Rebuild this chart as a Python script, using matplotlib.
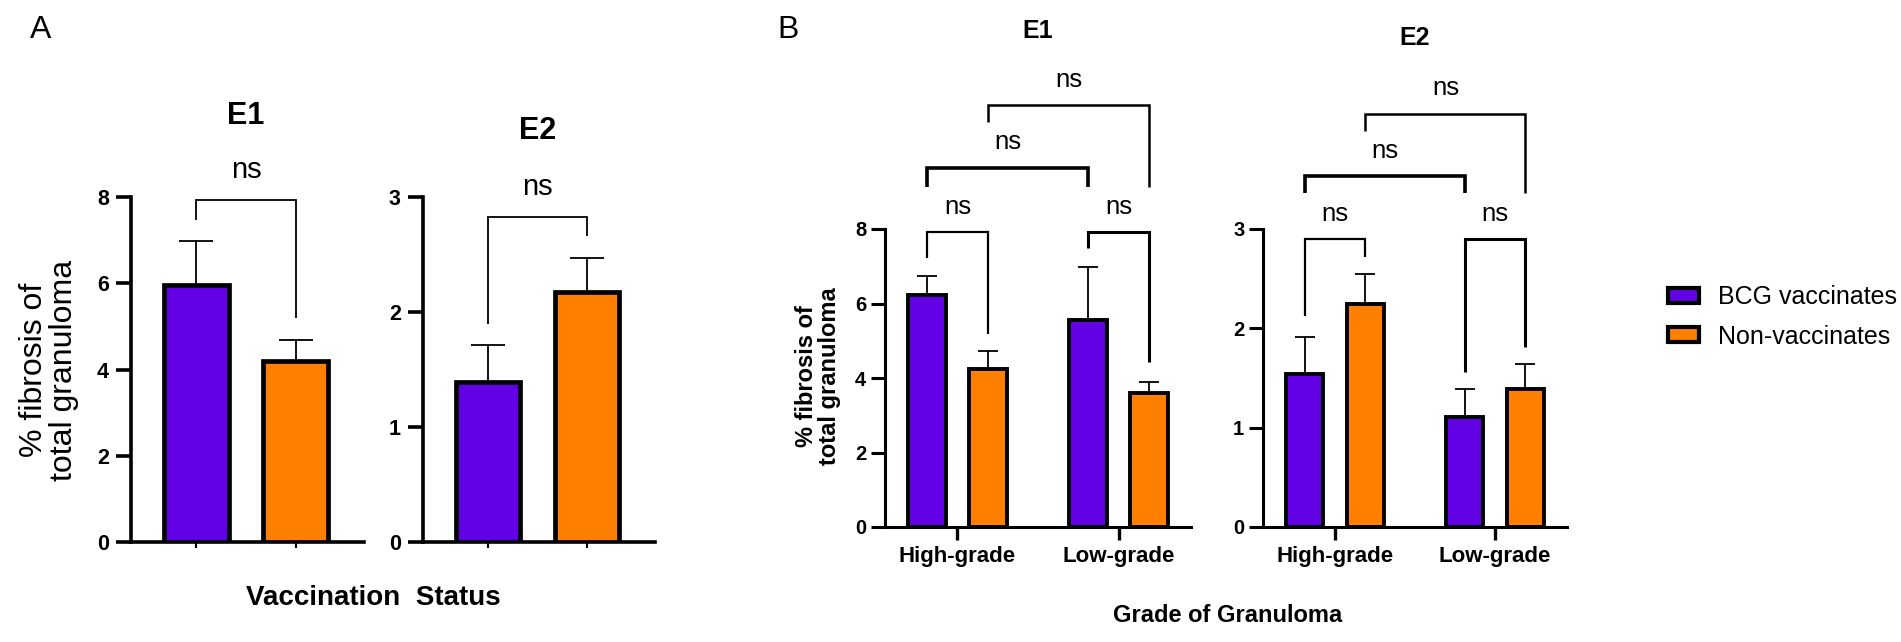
import matplotlib
matplotlib.use('Agg')
import matplotlib.pyplot as plt
from matplotlib.patches import Patch

plt.rcParams['font.family'] = ['Liberation Sans', 'DejaVu Sans']

# Data
groups = ['BCG vaccinates', 'Non-vaccinates']
grades = ['High-grade', 'Low-grade']

a_e1_mean = [5.95, 4.19]
a_e1_sem = [1.02, 0.50]
a_e2_mean = [1.39, 2.17]
a_e2_sem = [0.32, 0.30]

b_e1_bcg = [6.22, 5.56]
b_e1_bcg_sem = [0.51, 1.43]
b_e1_non = [4.24, 3.60]
b_e1_non_sem = [0.48, 0.29]
b_e2_bcg = [1.54, 1.11]
b_e2_bcg_sem = [0.37, 0.28]
b_e2_non = [2.25, 1.39]
b_e2_non_sem = [0.30, 0.25]

# significance brackets: (x1, x2, y, bottom of left leg, bottom of right leg)
a_e1_sig = [(0, 1, 7.94, 7.47, 5.19)]
a_e2_sig = [(0, 1, 2.83, 1.90, 2.66)]
b_e1_sig = [(-0.19, 0.19, 7.92, 7.23, 5.19), (0.81, 1.19, 7.92, 7.50, 4.42),
    (-0.19, 0.81, 9.65, 9.12, 9.12), (0.19, 1.19, 11.32, 10.86, 9.12)]
b_e2_sig = [(-0.19, 0.19, 2.90, 2.12, 2.72), (0.81, 1.19, 2.90, 1.56, 1.81),
    (-0.19, 0.81, 3.53, 3.36, 3.36), (0.19, 1.19, 4.16, 3.99, 3.36)]

purple = '#6200E6'
orange = '#FF8000'
W, H = 1901, 642
fig = plt.figure(figsize=(W / 100, H / 100), dpi=100)


def px_axes(left, right, top, bottom):
    return fig.add_axes([left / W, 1 - bottom / H, (right - left) / W,
        (bottom - top) / H])


def style(ax, lw, tl, fs, pad):
    for s in ['top', 'right']:
        ax.spines[s].set_visible(False)
    for s in ['left', 'bottom']:
        ax.spines[s].set_linewidth(lw)
    ax.tick_params(axis='y', length=tl, width=lw, labelsize=fs, pad=pad)
    for t in ax.get_yticklabels():
        t.set_fontweight('bold')


def brackets(ax, sig, fs, widths):
    for (x1, x2, y, b1, b2), w in zip(sig, widths):
        ax.plot([x1, x1, x2, x2], [b1, y, y, b2], color='black', lw=w,
            clip_on=False, solid_joinstyle='miter', solid_capstyle='butt')
        ax.text((x1 + x2) / 2, y + (ax.get_ylim()[1] * 0.045), 'ns',
            ha='center', va='bottom', fontsize=fs, clip_on=False)


# Panel A
for ax_px, mean, sem, ymax, ticks, sig, title in [
        ((131, 364), a_e1_mean, a_e1_sem, 8, [0, 2, 4, 6, 8], a_e1_sig, 'E1'),
        ((423, 655), a_e2_mean, a_e2_sem, 3, [0, 1, 2, 3], a_e2_sig, 'E2')]:
    ax = px_axes(ax_px[0], ax_px[1], 197, 542)
    x = [0, 1]
    ax.bar(x, mean, width=0.65, color=[purple, orange], edgecolor='black',
        linewidth=3.4, zorder=3)
    ax.errorbar(x, mean, yerr=[[0, 0], sem], fmt='none', ecolor='black',
        elinewidth=1.3, capsize=12, capthick=1.3, zorder=2)
    ax.set_xlim(-0.66, 1.69)
    ax.set_ylim(0, ymax)
    ax.set_yticks(ticks)
    ax.set_xticks(x)
    ax.set_xticklabels([])
    ax.tick_params(axis='x', length=4, width=1.5)
    style(ax, 2.6, 10.5, 15.5, 5.5)
    brackets(ax, sig, 21, [1.3])
    ax.text(0.5, ymax * (1.235 if ymax == 8 else 1.19), title, ha='center',
        va='center', fontsize=22, fontweight='bold')

fig.text(41 / W, 1 - 30 / H, 'A', fontsize=23, ha='center', va='center')
fig.text(49 / W, 1 - 370 / H, '% fibrosis of\ntotal granuloma', rotation=90,
    ha='center', va='center', fontsize=23, linespacing=1.0)
fig.text(373 / W, 1 - 598 / H, 'Vaccination  Status', ha='center',
    va='center', fontsize=20, fontweight='bold')

# Panel B
for ax_px, bcg, bcg_sem, non, non_sem, ymax, ticks, sig, title in [
        ((885, 1191), b_e1_bcg, b_e1_bcg_sem, b_e1_non, b_e1_non_sem, 8,
            [0, 2, 4, 6, 8], b_e1_sig, 'E1'),
        ((1263, 1567), b_e2_bcg, b_e2_bcg_sem, b_e2_non, b_e2_non_sem, 3,
            [0, 1, 2, 3], b_e2_sig, 'E2')]:
    ax = px_axes(ax_px[0], ax_px[1], 229, 527)
    x = [0, 1]
    xb = [i - 0.19 for i in x]
    xn = [i + 0.19 for i in x]
    ax.bar(xb, bcg, width=0.235, color=purple, edgecolor='black',
        linewidth=2.8, zorder=3)
    ax.bar(xn, non, width=0.235, color=orange, edgecolor='black',
        linewidth=2.8, zorder=3)
    ax.errorbar(xb, bcg, yerr=[[0, 0], bcg_sem], fmt='none', ecolor='black',
        elinewidth=1.3, capsize=7.5, capthick=1.3, zorder=2)
    ax.errorbar(xn, non, yerr=[[0, 0], non_sem], fmt='none', ecolor='black',
        elinewidth=1.3, capsize=7.5, capthick=1.3, zorder=2)
    ax.set_xlim(-0.45, 1.45)
    ax.set_ylim(0, ymax)
    ax.set_yticks(ticks)
    ax.set_xticks(x)
    ax.set_xticklabels(grades, fontsize=16, fontweight='bold')
    ax.tick_params(axis='x', length=9, width=2.4, pad=5)
    style(ax, 2.2, 10, 14.5, 3.5)
    brackets(ax, sig, 18.5, [1.6, 2.2, 2.6, 1.8])
    ax.text(0.5, ymax * (1.665 if ymax == 8 else 1.64), title, ha='center',
        va='center', fontsize=18, fontweight='bold')

fig.text(788 / W, 1 - 30 / H, 'B', fontsize=23, ha='center', va='center')
fig.text(818 / W, 1 - 376 / H, '% fibrosis of\ntotal granuloma', rotation=90,
    ha='center', va='center', fontsize=17, fontweight='bold', linespacing=1.0)
fig.text(1228 / W, 1 - 615 / H, 'Grade of Granuloma', ha='center',
    va='center', fontsize=17, fontweight='bold')

handles = [Patch(facecolor=purple, edgecolor='black', linewidth=3),
    Patch(facecolor=orange, edgecolor='black', linewidth=3)]
fig.legend(handles, groups, loc='center left',
    bbox_to_anchor=(1655 / W, 1 - 317 / H), frameon=False, fontsize=18,
    handlelength=1.25, handleheight=0.55, handletextpad=0.75,
    labelspacing=0.6, borderpad=0)

fig.savefig('out.png', dpi=100)
